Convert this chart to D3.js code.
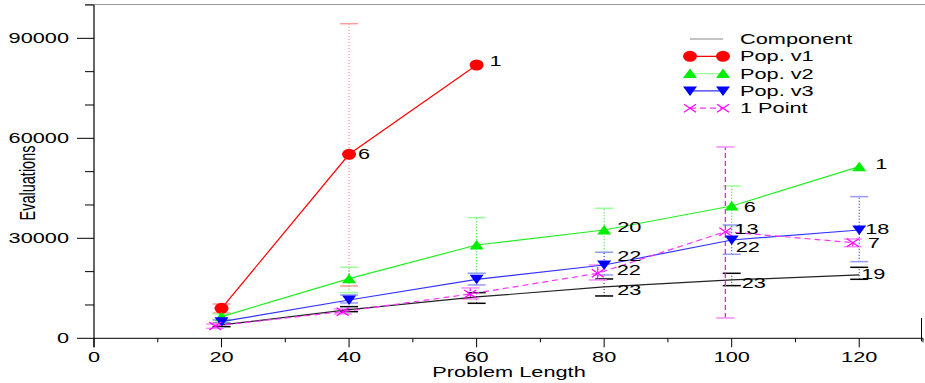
<!DOCTYPE html>
<html><head><meta charset="utf-8">
<script src="https://cdn.jsdelivr.net/npm/d3@7"></script>
<style>html,body{margin:0;padding:0;background:#fff;}svg{display:block;}</style>
</head><body>
<svg id="c" width="925" height="383"></svg>
<script>
// ---- data ----
const xValues = [20, 40, 60, 80, 100, 120];
const xOnePoint = [19, 39, 59, 79, 99, 119];
const xTicks = [0, 20, 40, 60, 80, 100, 120];
const yTicks = [0, 30000, 60000, 90000];

const component   = [4000, 8600, 12400, 15400, 17500, 19000];
const componentLo = [3500, 8000, 10500, 12700, 15800, 17700];
const componentHi = [4500, 9500, 13700, 17800, 19500, 21300];
const componentLabels = [null, null, null, "23", "23", "19"];

const popV1   = [9000, 55200, 82000];
const popV1Lo = [7600, 15700, null];
const popV1Hi = [10300, 94400, null];
const popV1Labels = [null, "6", "1"];

const popV2   = [6500, 17900, 28000, 32500, 39700, 51500];
const popV2Lo = [5700, 13700, 19500, 25800, 33800, null];
const popV2Hi = [7300, 21300, 36200, 39000, 45700, null];
const popV2Labels = [null, null, null, "20", "6", "1"];

const popV3   = [5000, 11500, 17700, 22000, 29500, 32500];
const popV3Lo = [4500, 10600, 16000, 19000, 25200, 23000];
const popV3Hi = [5500, 13000, 19500, 25800, 34000, 42500];
const popV3Labels = [null, null, null, "22", "22", "18"];

const onePoint   = [3700, 8000, 13300, 19500, 32000, 28700];
const onePointLo = [3000, 7300, 11800, 17500, 6100, 27500];
const onePointHi = [4300, 8800, 15100, 22000, 57400, 29800];
const onePointLabels = [null, null, null, "22", "13", "7"];

const seriesNames = ["Component", "Pop. v1", "Pop. v2", "Pop. v3", "1 Point"];

// label placement offsets (pixels, styling only): [dx, dy]
const labelOffsets = {
  "Component": [null, null, null, [13, 3], [10, 3], [2, -1]],
  "Pop. v1":   [null, [9, 0], [13, -4]],
  "Pop. v2":   [null, null, null, [13, -3], [12, 1], [16, -3]],
  "Pop. v3":   [null, null, null, [13, -9], [4, 7], [6, -1]],
  "1 Point":   [null, null, null, [19, -3], [9, -3], [15, 0]]
};

// ---- build ----
function mk(xs, ys, lo, hi, labels) {
  return ys.map((v, i) => ({x: xs[i], y: v, lo: lo[i], hi: hi[i], label: labels[i], i: i}));
}
const series = [
  {name: seriesNames[0], data: mk(xValues, component, componentLo, componentHi, componentLabels),
   color: "#000", lineColor: "#222", dash: null, marker: null, errColor: "#444", capColor: "#000", errDash: "1,2", legendColor: "#888"},
  {name: seriesNames[1], data: mk(xValues.slice(0,3), popV1, popV1Lo, popV1Hi, popV1Labels),
   color: "#ff0000", lineColor: "#ff0000", dash: null, marker: "circle", errColor: "#ff9090", capColor: "#ff9a9a", errDash: "1,2", legendColor: "#ff0000"},
  {name: seriesNames[2], data: mk(xValues, popV2, popV2Lo, popV2Hi, popV2Labels),
   color: "#00ee00", lineColor: "#22ee22", dash: null, marker: "up", errColor: "#33dd33", capColor: "#99ff99", errDash: "1,2", legendColor: "#99ff99"},
  {name: seriesNames[3], data: mk(xValues, popV3, popV3Lo, popV3Hi, popV3Labels),
   color: "#0000ff", lineColor: "#3333ff", dash: null, marker: "down", errColor: "#3333ff", capColor: "#9999ff", errDash: "1,2", legendColor: "#3333ff"},
  {name: seriesNames[4], data: mk(xOnePoint, onePoint, onePointLo, onePointHi, onePointLabels),
   color: "#ff00ff", lineColor: "#ff33ff", dash: "6,4", marker: "x", errColor: "#ff00ff", capColor: "#ff88ff", errDash: "5,3", legendColor: "#ff33ff"}
];

const svg = d3.select("#c");
const x = d3.scaleLinear().domain([0, 130]).range([94, 923]);
const y = d3.scaleLinear().domain([0, 100000]).range([338.3, 5]);
const FONT = "'Liberation Sans', Arial, Helvetica, sans-serif";
const SX = 1.5;
const FS = 14.5;

function stext(g, px, py, str, anchor, size, rot) {
  return g.append("text")
    .attr("transform", `translate(${px},${py}) scale(${SX},1)` + (rot ? ` rotate(${rot})` : ""))
    .attr("text-anchor", anchor || "start")
    .attr("font-family", FONT).attr("font-size", size || FS).attr("fill", "#000")
    .text(str);
}

// top line
svg.append("line").attr("x1", 85).attr("x2", 925).attr("y1", 4.5).attr("y2", 4.5)
  .attr("stroke", "#999").attr("stroke-width", 1);

// axes
const gx = svg.append("g");
gx.append("line").attr("x1", x(0)).attr("x2", x(130)).attr("y1", y(0)).attr("y2", y(0)).attr("stroke", "#000");
d3.range(0, 131, 10).forEach(v => {
  const major = v % 20 === 0 && v <= 120;
  gx.append("line").attr("x1", x(v)).attr("x2", x(v))
    .attr("y1", y(0)).attr("y2", y(0) + (major ? 9 : 4)).attr("stroke", "#000");
});
gx.append("line").attr("x1", x(130) - 1.5).attr("x2", x(130) - 1.5).attr("y1", 318).attr("y2", y(0) + 3).attr("stroke", "#000");
xTicks.forEach(v => stext(gx, x(v), 362, String(v), "middle", FS));
stext(gx, 509, 377, "Problem Length", "middle", FS);

const gy = svg.append("g");
gy.append("line").attr("x1", x(0)).attr("x2", x(0)).attr("y1", y(100000)).attr("y2", y(0) + 9).attr("stroke", "#000").attr("stroke-width", 1.2);
d3.range(0, 100001, 10000).forEach(v => {
  const major = v % 30000 === 0;
  gy.append("line").attr("x1", x(0) - (major ? 17 : 9)).attr("x2", x(0))
    .attr("y1", y(v)).attr("y2", y(v)).attr("stroke", "#000");
});
yTicks.forEach(v => stext(gy, 69, y(v) + 5, String(v), "end", FS));
stext(gy, 35, 183, "Evaluations", "middle", FS, -90);

// markers
function drawMarker(g, m, cx, cy, color) {
  if (m === "circle") {
    g.append("ellipse").attr("cx", cx).attr("cy", cy).attr("rx", 7).attr("ry", 5.5).attr("fill", color);
  } else if (m === "up") {
    g.append("path").attr("d", `M${cx - 7},${cy + 4.5}L${cx + 7},${cy + 4.5}L${cx},${cy - 5}Z`).attr("fill", color);
  } else if (m === "down") {
    g.append("path").attr("d", `M${cx - 7},${cy - 4.5}L${cx + 7},${cy - 4.5}L${cx},${cy + 5}Z`).attr("fill", color);
  } else if (m === "x") {
    g.append("path").attr("d", `M${cx - 6},${cy - 4}L${cx + 6},${cy + 4}M${cx - 6},${cy + 4}L${cx + 6},${cy - 4}`)
      .attr("stroke", color).attr("stroke-width", 1.2).attr("fill", "none");
  }
}

const plot = svg.append("g");
series.forEach(s => {
  const g = plot.append("g");
  s.data.forEach(d => {
    if (d.lo == null || d.hi == null) return;
    const cx = x(d.x);
    g.append("line").attr("x1", cx).attr("x2", cx).attr("y1", y(d.lo)).attr("y2", y(d.hi))
      .attr("stroke", s.errColor).attr("stroke-width", 1.2).attr("stroke-dasharray", s.errDash);
    [d.lo, d.hi].forEach(v => {
      g.append("line").attr("x1", cx - 9).attr("x2", cx + 9).attr("y1", y(v)).attr("y2", y(v))
        .attr("stroke", s.capColor).attr("stroke-width", 1.5);
    });
  });
});
const line = d3.line().x(d => x(d.x)).y(d => y(d.y));
series.forEach(s => {
  const g = plot.append("g");
  g.append("path").datum(s.data).attr("d", line).attr("fill", "none")
    .attr("stroke", s.lineColor).attr("stroke-width", 1.2)
    .attr("stroke-dasharray", s.dash);
  s.data.forEach(d => drawMarker(g, s.marker, x(d.x), y(d.y), s.color));
  s.data.forEach(d => {
    if (!d.label) return;
    const off = labelOffsets[s.name][d.i] || [10, 0];
    stext(g, x(d.x) + off[0], y(d.y) + off[1] + 5, d.label, "start", FS);
  });
});

// legend
const lg = svg.append("g");
series.forEach((s, i) => {
  const ly = 39 + i * 17.3;
  lg.append("line").attr("x1", 690).attr("x2", 723).attr("y1", ly).attr("y2", ly)
    .attr("stroke", s.legendColor).attr("stroke-width", 1.2).attr("stroke-dasharray", s.dash);
  drawMarker(lg, s.marker, 690, ly, s.color);
  drawMarker(lg, s.marker, 723, ly, s.color);
  stext(lg, 740, ly + 5, s.name, "start", FS);
});
</script>
</body></html>
